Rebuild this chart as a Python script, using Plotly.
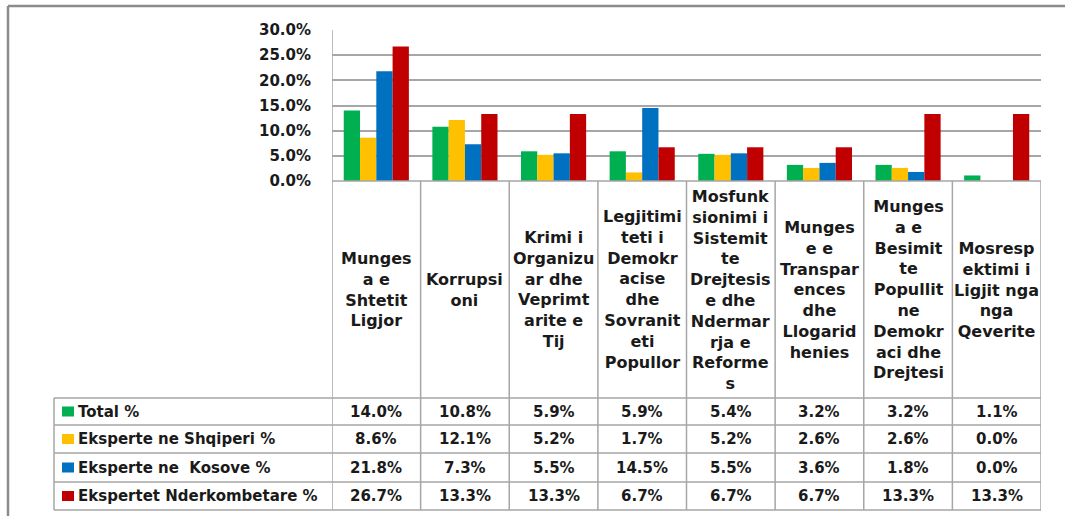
import plotly.graph_objects as go

# ---------------- data ----------------
categories = [
    "Munges<br>a e<br>Shtetit<br>Ligjor",
    "Korrupsi<br>oni",
    "Krimi i<br>Organizu<br>ar dhe<br>Veprimt<br>arite e<br>Tij",
    "Legjitimi<br>teti i<br>Demokr<br>acise<br>dhe<br>Sovranit<br>eti<br>Popullor",
    "Mosfunk<br>sionimi i<br>Sistemit<br>te<br>Drejtesis<br>e dhe<br>Ndermar<br>rja e<br>Reforme<br>s",
    "Munges<br>e e<br>Transpar<br>ences<br>dhe<br>Llogarid<br>henies",
    "Munges<br>a e<br>Besimit<br>te<br>Popullit<br>ne<br>Demokr<br>aci dhe<br>Drejtesi",
    "Mosresp<br>ektimi i<br>Ligjit nga<br>nga<br>Qeverite",
]
series_names = [
    "Total %",
    "Eksperte ne Shqiperi %",
    "Eksperte ne  Kosove %",
    "Ekspertet Nderkombetare %",
]
total = [0.140, 0.108, 0.059, 0.059, 0.054, 0.032, 0.032, 0.011]
shqiperi = [0.086, 0.121, 0.052, 0.017, 0.052, 0.026, 0.026, 0.000]
kosove = [0.218, 0.073, 0.055, 0.145, 0.055, 0.036, 0.018, 0.000]
nderkombetare = [0.267, 0.133, 0.133, 0.067, 0.067, 0.067, 0.133, 0.133]
series_values = [total, shqiperi, kosove, nderkombetare]
colors = ["#00B050", "#FFC000", "#0070C0", "#C00000"]
y_ticks = [0.0, 0.05, 0.10, 0.15, 0.20, 0.25, 0.30]

# ---------------- layout helpers (pixel -> paper) ----------------
W, H = 1065, 516
def px(x):
    return x / W
def py(y):
    return 1 - y / H

PLOT_L, PLOT_R, PLOT_T, PLOT_B = 332, 1041, 30, 181
TABLE_L = 54
row_edges = [398, 425, 453, 482, 510]
GRID = "#A6A6A6"
FONT = "DejaVu Sans"
TXT = "#1a1a1a"

fig = go.Figure()
for name, vals, col in zip(series_names, series_values, colors):
    fig.add_trace(go.Bar(x=list(range(len(categories))), y=vals, name=name,
                         marker=dict(color=col, line=dict(width=0))))

shapes = []
annotations = []

# outer chart border (left + top)
shapes.append(dict(type="line", xref="paper", yref="paper", x0=px(8), x1=px(8),
                   y0=py(6), y1=py(516), line=dict(color="#8C8C8C", width=2.5)))
shapes.append(dict(type="line", xref="paper", yref="paper", x0=px(8), x1=px(1065),
                   y0=py(6), y1=py(6), line=dict(color="#8C8C8C", width=2.5)))

# horizontal line at plot bottom / table top
shapes.append(dict(type="line", xref="paper", yref="paper", x0=px(PLOT_L), x1=px(PLOT_R),
                   y0=py(PLOT_B), y1=py(PLOT_B), line=dict(color=GRID, width=1.5)))
# table row lines
for ry in row_edges:
    shapes.append(dict(type="line", xref="paper", yref="paper", x0=px(TABLE_L), x1=px(PLOT_R),
                       y0=py(ry), y1=py(ry), line=dict(color=GRID, width=1.5)))
# left table border
shapes.append(dict(type="line", xref="paper", yref="paper", x0=px(TABLE_L), x1=px(TABLE_L),
                   y0=py(row_edges[0]), y1=py(row_edges[-1]), line=dict(color=GRID, width=1.5)))
# column boundaries
n = len(categories)
for i in range(n + 1):
    top = PLOT_T if i == 0 else PLOT_B
    shapes.append(dict(type="line", xref="x", yref="paper", x0=i - 0.5, x1=i - 0.5,
                       y0=py(top), y1=py(row_edges[-1]), line=dict(color=GRID, width=1.5)))

# category labels
label_mid = (PLOT_B + row_edges[0]) / 2
for i, c in enumerate(categories):
    annotations.append(dict(x=i, xref="x", y=py(label_mid), yref="paper", text=c,
                            showarrow=False, xanchor="center", yanchor="middle",
                            align="center",
                            font=dict(family=FONT, size=16, color=TXT, weight=700)))

# data table rows
for r, (name, vals, col) in enumerate(zip(series_names, series_values, colors)):
    y0, y1 = row_edges[r], row_edges[r + 1]
    mid = (y0 + y1) / 2
    shapes.append(dict(type="rect", xref="paper", yref="paper", x0=px(62), x1=px(74),
                       y0=py(mid + 5), y1=py(mid - 5), fillcolor=col, line=dict(width=0)))
    annotations.append(dict(x=px(76), xref="paper", y=py(mid), yref="paper", text=name,
                            showarrow=False, xanchor="left", yanchor="middle",
                            font=dict(family=FONT, size=15, color=TXT, weight=700)))
    for i, v in enumerate(vals):
        annotations.append(dict(x=i, xref="x", y=py(mid), yref="paper", text=f"{v*100:.1f}%",
                                showarrow=False, xanchor="center", yanchor="middle",
                                font=dict(family=FONT, size=15, color=TXT, weight=700)))

fig.update_layout(
    width=W, height=H,
    margin=dict(l=0, r=0, t=0, b=0, autoexpand=False),
    paper_bgcolor="white", plot_bgcolor="white",
    barmode="group", bargap=0.265, bargroupgap=0,
    showlegend=False,
    font=dict(family=FONT, size=15, color=TXT),
    xaxis=dict(domain=[px(PLOT_L), px(PLOT_R)], range=[-0.5, n - 0.5],
               showticklabels=False, showgrid=False, zeroline=False, showline=False,
               automargin=False, fixedrange=True),
    yaxis=dict(domain=[py(PLOT_B), py(PLOT_T)], range=[0, 0.30],
               tickvals=y_ticks, tickformat=".1%", showgrid=True, gridcolor=GRID,
               gridwidth=1.5, zeroline=False, showline=False, ticks="",
               ticklabelstandoff=20, automargin=False,
               tickfont=dict(family=FONT, size=15, color=TXT, weight=700)),
    shapes=shapes,
    annotations=annotations,
)

fig.write_html(
    "out.html",
    config={"displayModeBar": False},
    post_script="document.body.style.margin='0';document.body.style.overflow='hidden';"
                "document.documentElement.style.overflow='hidden';",
)
